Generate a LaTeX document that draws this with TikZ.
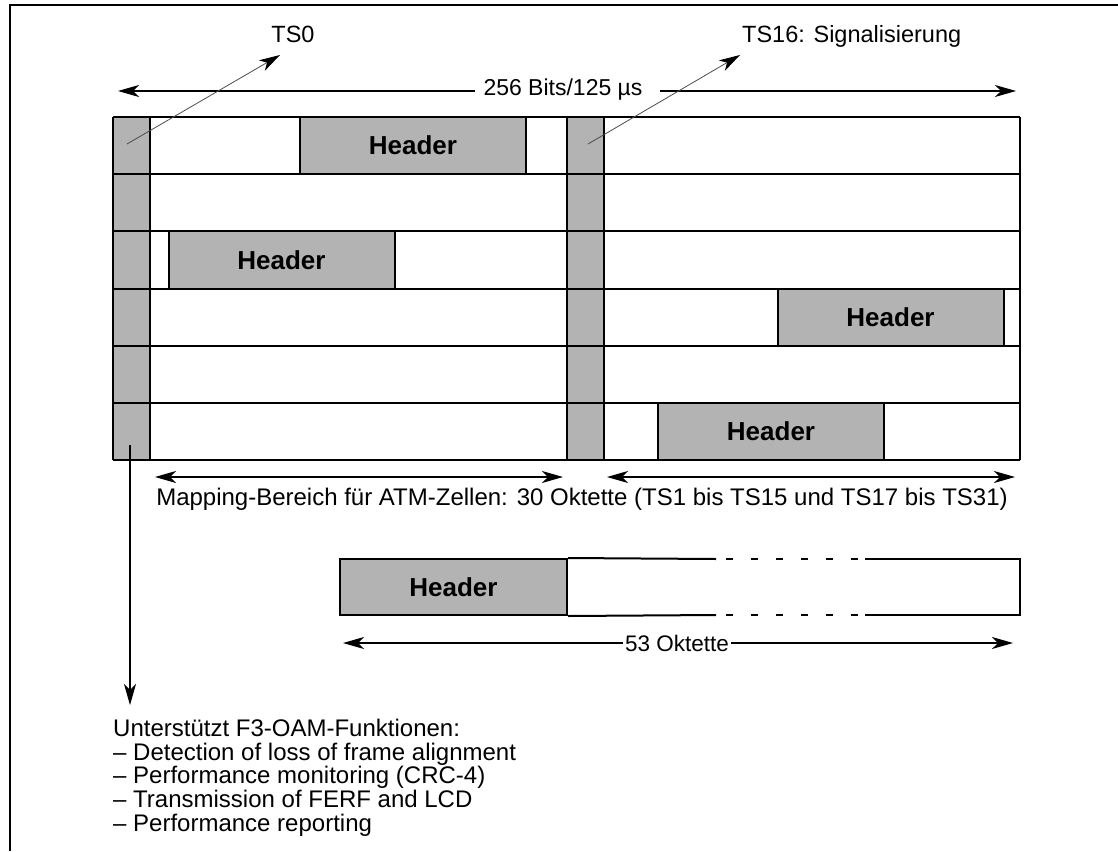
\documentclass[tikz,border=0pt]{standalone}
\usepackage{fontspec}
\setmainfont{Liberation Sans}
\usetikzlibrary{arrows.meta}
\definecolor{cellgray}{RGB}{179,179,179}
\begin{document}
\begin{tikzpicture}[x=1pt,y=-1pt,
  gridline/.style={line width=2pt},
  hdr/.style={draw, line width=2pt, fill=cellgray, inner sep=0pt, minimum width=226pt, minimum height=57.2pt, font=\fontsize{26}{30}\selectfont\bfseries},
  lbl/.style={inner sep=0pt, font=\fontsize{22.5}{24}\selectfont},
  biglbl/.style={inner sep=0pt, font=\fontsize{24}{24}\selectfont},
  dimarrow/.style={{Stealth[length=21pt,width=12pt,inset=6pt]}-{Stealth[length=21pt,width=12pt,inset=6pt]}, line width=1.2pt},
  onearrow/.style={-{Stealth[length=21pt,width=12pt,inset=6pt]}, line width=1.2pt},
  pointer/.style={line width=0.8pt, draw=black!70, -{Stealth[length=21pt,width=12pt,inset=6pt,color=black]}}
]
\useasboundingbox (0,0) rectangle (1118,851);
% frame
\draw[line width=2.5pt] (1118,5) -- (10,5) -- (10,851);

% gray columns
\fill[cellgray] (113,117) rectangle (150,460);
\fill[cellgray] (567,117) rectangle (604,460);

% header boxes in frame
\node[hdr] (h1) at (413,145.6) {Header};
\node[hdr] (h3) at (281.5,260) {Header};
\node[hdr] (h4) at (890.5,317.2) {Header};
\node[hdr] (h6) at (771,431.4) {Header};

% grid
\foreach \i in {0,...,6}{
  \draw[gridline] (113,{117+57.1667*\i}) -- (1020,{117+57.1667*\i});
}
\foreach \x in {113,150,567,604,1020}{
  \draw[gridline] (\x,117) -- (\x,460);
}

% top dimension arrow
\node[lbl, fill=white, font=\fontsize{23}{24}\selectfont] (bits) at (563,90) {256 Bits/125 µs};
\coordinate (tl) at (118,91);
\coordinate (tr) at (1016,91);
\draw[onearrow] ([xshift=-8pt]bits.west |- tl) -- (tl);
\draw[onearrow] ([xshift=17pt]bits.east |- tr) -- (tr);

% TS labels
\node[lbl, anchor=base, font=\fontsize{23.5}{24}\selectfont] (ts0) at (293,43) {TS0};
\node[lbl, anchor=base west, font=\fontsize{23.5}{24}\selectfont] (ts16) at (742,43) {TS16: Signalisierung};
\coordinate (ts0s) at (127,144);
\coordinate (ts0e) at (280,55);
\coordinate (ts16s) at (588,144);
\coordinate (ts16e) at (740,55);
\draw[pointer] (ts0s) -- (ts0e);
\draw[pointer] (ts16s) -- (ts16e);

% mapping arrows
\coordinate (m1a) at (155,477);
\coordinate (m1b) at (563,477);
\coordinate (m2a) at (607,477);
\coordinate (m2b) at (1015,477);
\draw[dimarrow] (m1a) -- (m1b);
\draw[dimarrow] (m2a) -- (m2b);
\node[biglbl, anchor=base] (map) at (582,505) {Mapping-Bereich für ATM-Zellen: 30 Oktette (TS1 bis TS15 und TS17 bis TS31)};

% ATM cell
\node[hdr, minimum width=227pt, minimum height=56pt] (ch) at (453.5,587) {Header};
\draw[line width=2pt] (ch.north east) -- (716,559);
\draw[line width=2pt, dash pattern=on 7pt off 18pt] (726,559) -- (865,559);
\draw[line width=2pt] (865,559) -- (1020,559) -- (1020,615) -- (865,615);
\draw[line width=2pt, dash pattern=on 7pt off 18pt] (726,615) -- (865,615);
\draw[line width=2pt] (716,615) -- (ch.south east);

\node[lbl, fill=white, inner xsep=2pt] (oct) at (677,643) {53 Oktette};
\coordinate (ol) at (343,643);
\coordinate (or) at (1013,643);
\draw[onearrow] (oct.west) -- (ol);
\draw[onearrow] (oct.east) -- (or);

% down arrow to OAM text
\coordinate (ds) at (130,445);
\coordinate (de) at (130,705);
\draw[onearrow] (ds) -- (de);
\node[biglbl, anchor=north west, align=left, font=\fontsize{24}{23.6}\selectfont] (oam) at (113,719)
 {Unterstützt F3-OAM-Funktionen:\\
  – Detection of loss of frame alignment\\
  – Performance monitoring (CRC-4)\\
  – Transmission of FERF and LCD\\
  – Performance reporting};
\end{tikzpicture}
\end{document}
